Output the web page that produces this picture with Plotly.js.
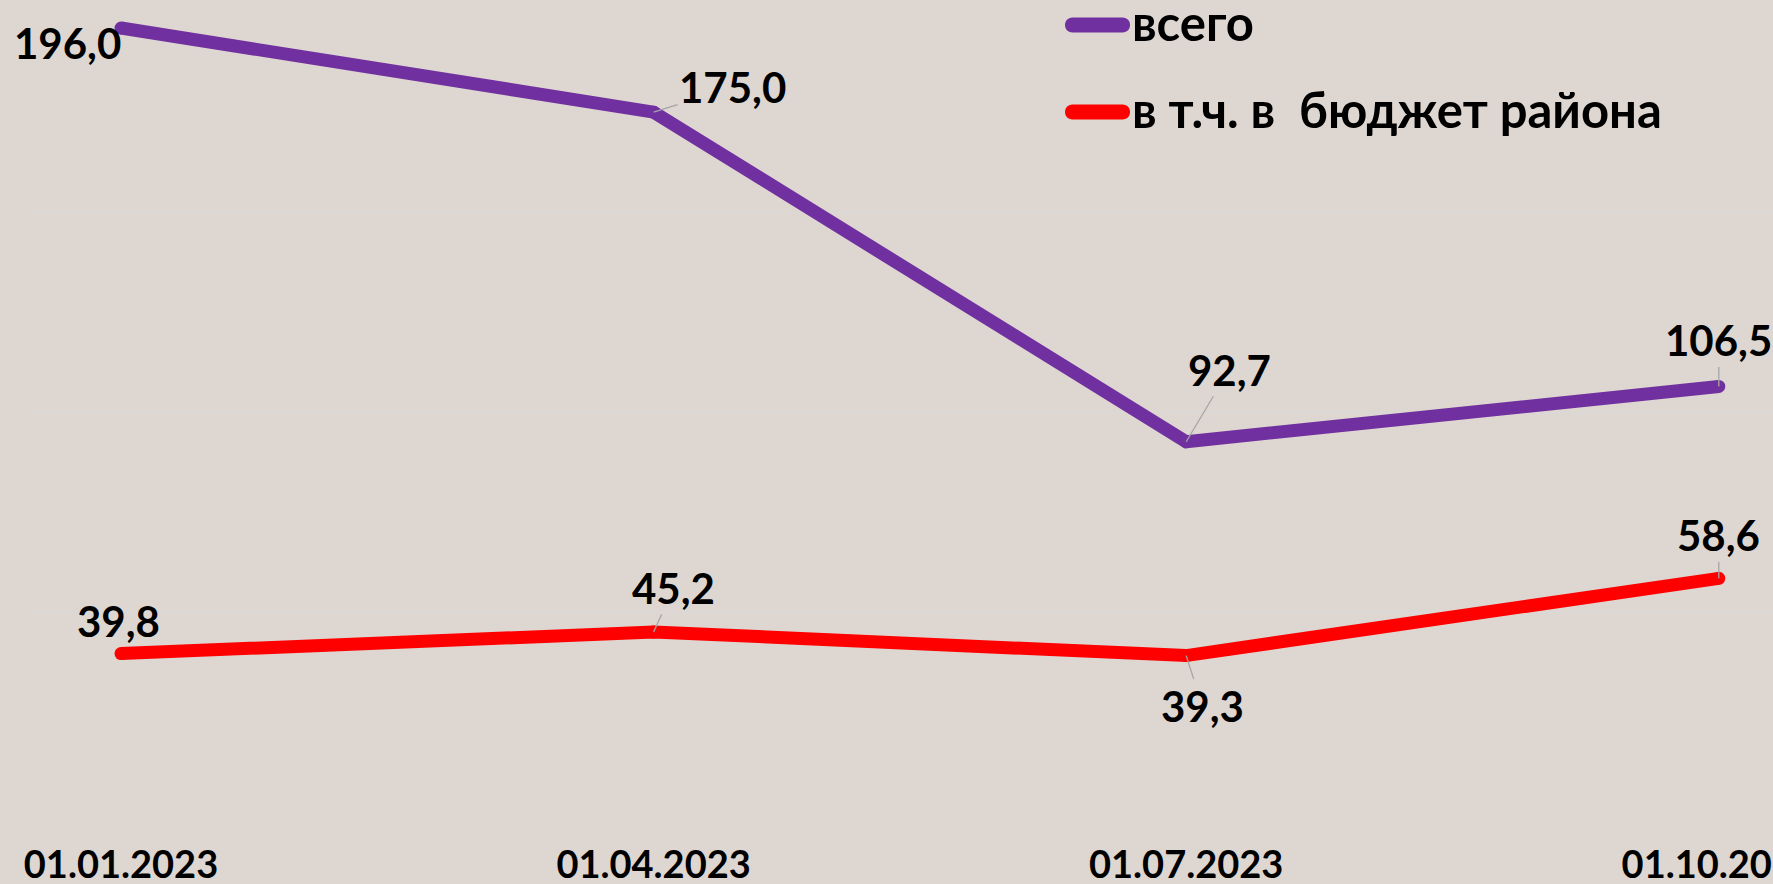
<!DOCTYPE html>
<html>
<head>
<meta charset="utf-8">
<script src="https://cdn.plot.ly/plotly-3.0.1.min.js"></script>
<style>
  html, body { margin: 0; padding: 0; background: #DED6D1; overflow: hidden; }
  #chart { width: 1773px; height: 884px; }
</style>
</head>
<body>
<div id="chart"></div>
<script>
// ---- data ----
const categories = ['01.01.2023', '01.04.2023', '01.07.2023', '01.10.2023'];
const totalValues = [196.0, 175.0, 92.7, 106.5];
const budgetValues = [39.8, 45.2, 39.3, 58.6];
const seriesNames = ['всего', 'в т.ч. в  бюджет района'];

// label offsets (pixels, text centre relative to point) and leader-line flags
const totalOffsets = [[-54, 15], [79, -25], [43, -72], [0, -46]];
const totalLeaders = [false, true, true, true];
const budgetOffsets = [[-3, -33], [20, -44], [16, 50], [0, -43]];
const budgetLeaders = [false, true, true, true];

const purple = '#7030A0';
const red = '#FF0000';
const colors = [purple, red];
const fontFamily = 'Lato, "Open Sans", "Noto Sans", sans-serif';

// plot geometry
const W = 1773, H = 884;
const M = { l: 32, r: 0, t: 12, b: 71 };
const PW = W - M.l - M.r, PH = H - M.t - M.b;
const px2paperX = p => (p - M.l) / PW;
const px2paperY = p => (H - M.b - p) / PH;

const xIdx = categories.map((_, i) => i);

function fmt(v) { return v.toFixed(1).replace('.', ','); }

const traces = [totalValues, budgetValues].map((vals, k) => ({
  x: xIdx, y: vals, name: seriesNames[k], type: 'scatter',
  mode: 'lines+markers',
  line: { color: colors[k], width: 13 },
  marker: { color: colors[k], size: 13 },
  showlegend: false,
  hoverinfo: 'skip'
}));

function makeAnn(vals, offs, leaders) {
  return vals.map((v, i) => ({
    x: xIdx[i], y: v, xref: 'x', yref: 'y',
    text: fmt(v),
    showarrow: true,
    ax: offs[i][0], ay: offs[i][1],
    arrowhead: 0, arrowwidth: 1.3, standoff: 0,
    arrowcolor: leaders[i] ? '#A6A6A6' : 'rgba(0,0,0,0)',
    font: { family: fontFamily, size: 42, color: '#000000', weight: 700 }
  }));
}

let annotations = makeAnn(totalValues, totalOffsets, totalLeaders)
  .concat(makeAnn(budgetValues, budgetOffsets, budgetLeaders));

// custom legend (pill-shaped line symbols + text)
const legendSymbolX = 1097.5;          // centre of symbol, px
const legendRowY = [25, 112];          // symbol centre per row, px
const legendTextX = 1130;              // left edge of text, px
const shapes = [];
seriesNames.forEach((name, k) => {
  shapes.push({
    type: 'path', xref: 'paper', yref: 'paper',
    xsizemode: 'pixel', ysizemode: 'pixel',
    xanchor: px2paperX(legendSymbolX), yanchor: px2paperY(legendRowY[k]),
    path: 'M-25,-7.5 L25,-7.5 C35,-7.5 35,7.5 25,7.5 L-25,7.5 C-35,7.5 -35,-7.5 -25,-7.5 Z',
    fillcolor: colors[k], line: { width: 0 }
  });
  annotations.push({
    xref: 'paper', yref: 'paper',
    x: px2paperX(legendTextX), y: px2paperY(legendRowY[k] - 3),
    xanchor: 'left', yanchor: 'middle',
    text: name, showarrow: false,
    font: { family: fontFamily, size: 49, color: '#000000', weight: 700 }
  });
});

const layout = {
  width: W, height: H,
  paper_bgcolor: '#DED6D1', plot_bgcolor: '#DED6D1',
  margin: M,
  showlegend: false,
  xaxis: {
    type: 'linear',
    range: [-(121 - M.l) / 532.6, -(121 - M.l) / 532.6 + PW / 532.6],
    tickmode: 'array', tickvals: xIdx, ticktext: categories,
    showgrid: false, zeroline: false, showline: false,
    ticks: '',
    ticklabelstandoff: 26,
    ticklabeloverflow: 'allow',
    tickfont: { family: fontFamily, size: 38, color: '#000000', weight: 700 },
    fixedrange: true
  },
  yaxis: {
    range: [0, 200],
    dtick: 50,
    showgrid: true, gridcolor: '#D9D9D9', gridwidth: 1.3,
    zeroline: false, showline: false,
    showticklabels: false, ticks: '',
    fixedrange: true
  },
  shapes: shapes,
  annotations: annotations,
  hovermode: false
};

Plotly.newPlot('chart', traces, layout, { displayModeBar: false, staticPlot: true });
</script>
</body>
</html>
